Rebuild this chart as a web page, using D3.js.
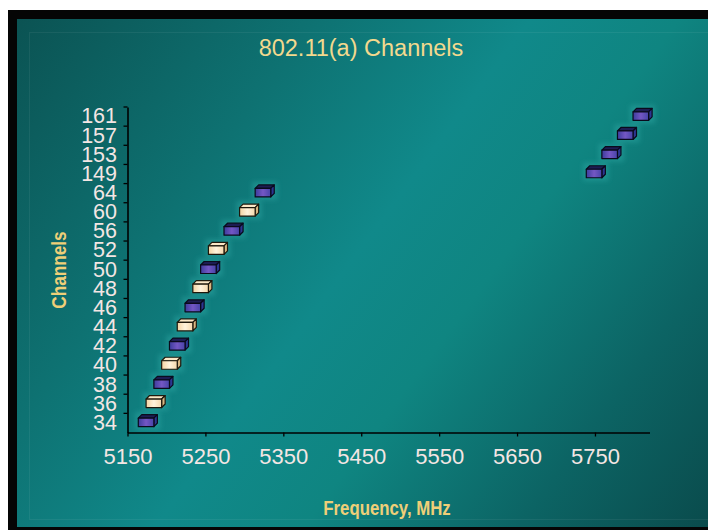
<!DOCTYPE html>
<html>
<head>
<meta charset="utf-8">
<script src="https://cdn.jsdelivr.net/npm/d3@7/dist/d3.min.js"></script>
<style>
  html, body { margin: 0; padding: 0; background: #ffffff; }
  svg { display: block; }
</style>
</head>
<body>
<svg id="chart" width="708" height="530"></svg>
<script>
// 802.11a channel numbers and their centre frequencies (MHz)
const channels = ["34","36","38","40","42","44","46","48","50","52","56","60","64","149","153","157","161"];
const frequencies = [5170,5180,5190,5200,5210,5220,5230,5240,5250,5260,5280,5300,5320,5745,5765,5785,5805];
// which of the two bar shades each channel uses
const shades = ["dark","light","dark","light","dark","light","dark","light","dark","light","dark","light","dark","dark","dark","dark","dark"];
// occupied bandwidth of a channel (MHz)
const channelWidth = 20;
// frequency axis
const xTicks = [5150,5250,5350,5450,5550,5650,5750];
const xDomain = [5150, 5820];

const svg = d3.select("#chart");
const W = 708, H = 530;
const defs = svg.append("defs");

// background gradient
const bg = defs.append("linearGradient").attr("id", "bg")
  .attr("gradientUnits", "userSpaceOnUse")
  .attr("x1", 17).attr("y1", 19).attr("x2", 708).attr("y2", 530);
[[0, "#0b5353"], [0.28, "#0e7272"], [0.48, "#10898a"], [0.62, "#0f8581"], [0.82, "#0c6464"], [1, "#0a4b4c"]]
  .forEach(([o, c]) => bg.append("stop").attr("offset", o).attr("stop-color", c));

// bar face gradients
function hGrad(id, stops) {
  const g = defs.append("linearGradient").attr("id", id)
    .attr("x1", 0).attr("y1", 0).attr("x2", 1).attr("y2", 0);
  stops.forEach(([o, c]) => g.append("stop").attr("offset", o).attr("stop-color", c));
}
hGrad("frontDark", [[0, "#3c3c9c"], [0.5, "#7457c4"], [1, "#4744a8"]]);
hGrad("frontLight", [[0, "#f3d3a2"], [0.5, "#fff3dc"], [1, "#f5d8ac"]]);

defs.append("filter").attr("id", "halo")
  .attr("x", "-50%").attr("y", "-80%").attr("width", "200%").attr("height", "260%")
  .append("feGaussianBlur").attr("stdDeviation", 2.5);

const faces = {
  dark:  { front: "url(#frontDark)",  top: "#1d1d52", side: "#2c3690", stroke: "#0a0a1c" },
  light: { front: "url(#frontLight)", top: "#fbe7c6", side: "#d8b682", stroke: "#1e180c" }
};

// page frame
svg.append("rect").attr("x", 8).attr("y", 10).attr("width", W - 8).attr("height", H - 10).attr("fill", "#050505");
svg.append("rect").attr("x", 17).attr("y", 19).attr("width", W - 17).attr("height", 508).attr("fill", "url(#bg)");
svg.append("rect").attr("x", 29.5).attr("y", 32.5).attr("width", W).attr("height", 487)
  .attr("fill", "none").attr("stroke", "rgba(255,255,255,0.06)").attr("stroke-width", 1.2);

// scales
const x = d3.scaleLinear().domain(xDomain).range([127.5, 649.5]);
const y = d3.scaleBand().domain(channels).range([432.5, 107]);

// title
svg.append("text")
  .attr("x", 361).attr("y", 56)
  .attr("text-anchor", "middle")
  .attr("font-family", "'Liberation Sans', Arial, sans-serif")
  .attr("font-size", 23.5)
  .attr("fill", "#f3d98e")
  .text("802.11(a) Channels");

// bars (3D boxes)
const depth = 3.5, faceH = 8.5, shift = 3;
const rows = channels.map((c, i) => ({ c, f: frequencies[i], s: shades[i] }));
const bars = svg.append("g");
rows.forEach(d => {
  const x0 = x(d.f - channelWidth / 2) + shift;
  const x1 = x(d.f + channelWidth / 2) + shift;
  const cy = y(d.c) + y.bandwidth() / 2 - 0.5;
  const t = cy - faceH / 2, b = cy + faceH / 2;
  const st = faces[d.s];
  bars.append("rect")
    .attr("x", x0 - 3).attr("y", t - depth - 3)
    .attr("width", x1 - x0 + depth + 6).attr("height", faceH + depth + 6)
    .attr("fill", "#3ab8b4").attr("opacity", 0.35).attr("filter", "url(#halo)");
  const g = bars.append("g")
    .attr("stroke", st.stroke).attr("stroke-width", 1.2).attr("stroke-linejoin", "round");
  g.append("polygon")
    .attr("points", [[x0, t], [x0 + depth, t - depth], [x1 + depth, t - depth], [x1, t]].join(" "))
    .attr("fill", st.top);
  g.append("polygon")
    .attr("points", [[x1, t], [x1 + depth, t - depth], [x1 + depth, b - depth], [x1, b]].join(" "))
    .attr("fill", st.side);
  g.append("rect")
    .attr("x", x0).attr("y", t).attr("width", x1 - x0).attr("height", faceH)
    .attr("fill", st.front);
});

// x axis
const xAxis = svg.append("g")
  .attr("transform", "translate(0,432.5)")
  .call(d3.axisBottom(x).tickValues(xTicks).tickFormat(d3.format("d"))
    .tickSize(4).tickSizeOuter(0).tickPadding(12));
xAxis.select(".domain").attr("stroke", "#000").attr("stroke-width", 1.6);
xAxis.selectAll(".tick line").attr("stroke", "#000").attr("stroke-width", 1.3);
xAxis.selectAll("text")
  .attr("font-family", "'Liberation Sans', Arial, sans-serif")
  .attr("font-size", 22).attr("fill", "#f4e6e4");

// y axis (labels centred in each band, ticks on band edges)
const yAxis = svg.append("g")
  .attr("transform", "translate(127.5,0)")
  .call(d3.axisLeft(y).tickSize(0).tickSizeOuter(0).tickPadding(10.5));
yAxis.select(".domain").attr("stroke", "#000").attr("stroke-width", 1.6);
yAxis.selectAll("text")
  .attr("font-family", "'Liberation Sans', Arial, sans-serif")
  .attr("font-size", 21.5).attr("fill", "#f4e6e4");
const edges = channels.map(c => y(c));
yAxis.selectAll(".edge").data(edges).join("line")
  .attr("class", "edge")
  .attr("x1", -4).attr("x2", 0).attr("y1", d => d).attr("y2", d => d)
  .attr("stroke", "#000").attr("stroke-width", 1.3);

// axis titles (narrow bold lettering)
svg.append("text")
  .attr("transform", "translate(387,515) scale(0.8,1)")
  .attr("text-anchor", "middle")
  .attr("font-family", "'Liberation Sans', Arial, sans-serif")
  .attr("font-weight", "bold").attr("font-size", 21)
  .attr("fill", "#efcf78")
  .text("Frequency, MHz");
svg.append("text")
  .attr("transform", "translate(66,270) rotate(-90) scale(0.86,1)")
  .attr("text-anchor", "middle")
  .attr("font-family", "'Liberation Sans', Arial, sans-serif")
  .attr("font-weight", "bold").attr("font-size", 20)
  .attr("fill", "#efcf78")
  .text("Channels");
</script>
</body>
</html>
